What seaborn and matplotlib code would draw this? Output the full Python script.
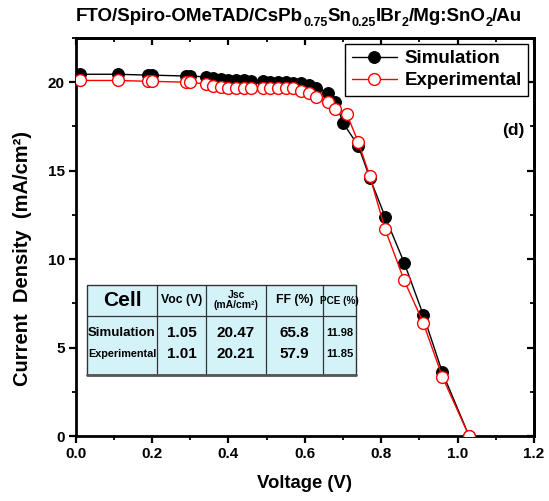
import matplotlib
matplotlib.use("Agg")
import matplotlib.pyplot as plt
import seaborn as sns
import pandas as pd
from matplotlib.patches import Rectangle
from matplotlib.ticker import MultipleLocator

# ---------------- data ----------------
v_sim = [0.01, 0.11, 0.19, 0.20, 0.29, 0.30, 0.34, 0.36, 0.38, 0.40, 0.42, 0.44, 0.46,
         0.49, 0.51, 0.53, 0.55, 0.57, 0.59, 0.61, 0.63, 0.66, 0.68, 0.70, 0.74, 0.77,
         0.81, 0.86, 0.91, 0.96, 1.03]
j_sim = [20.45, 20.45, 20.4, 20.4, 20.35, 20.35, 20.3, 20.25, 20.2, 20.15, 20.1, 20.1,
         20.05, 20.05, 20.0, 20.0, 20.0, 19.95, 19.95, 19.85, 19.7, 19.4, 18.9, 17.7,
         16.4, 14.6, 12.4, 9.8, 6.85, 3.6, 0.0]
v_exp = [0.01, 0.11, 0.19, 0.20, 0.29, 0.30, 0.34, 0.36, 0.38, 0.40, 0.42, 0.44, 0.46,
         0.49, 0.51, 0.53, 0.55, 0.57, 0.59, 0.61, 0.63, 0.66, 0.68, 0.71, 0.74, 0.77,
         0.81, 0.86, 0.91, 0.96, 1.03]
j_exp = [20.1, 20.1, 20.05, 20.05, 20.0, 20.0, 19.9, 19.8, 19.75, 19.7, 19.68, 19.66,
         19.66, 19.66, 19.66, 19.66, 19.66, 19.66, 19.5, 19.4, 19.15, 18.9, 18.5, 18.2,
         16.6, 14.7, 11.7, 8.8, 6.4, 3.35, 0.0]

table_header = ["Cell", "Voc (V)", "Jsc\n(mA/cm²)", "FF (%)", "PCE (%)"]
table_rows = [["Simulation", "1.05", "20.47", "65.8", "11.98"],
              ["Experimental", "1.01", "20.21", "57.9", "11.85"]]

# title pieces: (text, is_subscript)
title_parts = [("FTO/Spiro-OMeTAD/CsPb", False), ("0.75", True), ("Sn", False),
               ("0.25", True), ("IBr", False), ("2", True), ("/Mg:SnO", False),
               ("2", True), ("/Au", False)]

x_ticks = [0.0, 0.2, 0.4, 0.6, 0.8, 1.0, 1.2]
y_ticks = [0, 5, 10, 15, 20]

# ---------------- style ----------------
sns.set_style("ticks")
plt.rcParams["font.family"] = ["Liberation Sans", "DejaVu Sans"]
plt.rcParams["font.weight"] = "bold"
plt.rcParams["text.color"] = "black"
plt.rcParams["axes.labelcolor"] = "black"
plt.rcParams["xtick.color"] = "black"
plt.rcParams["ytick.color"] = "black"
plt.rcParams["xtick.labelcolor"] = "black"
plt.rcParams["ytick.labelcolor"] = "black"

fig = plt.figure(figsize=(5.49, 5.01), dpi=100)
W, H = 549, 501
L, R, T, B = 75.7, 534, 38, 436
ax = fig.add_axes([L / W, 1 - B / H, (R - L) / W, (B - T) / H])

df_sim = pd.DataFrame({"V": v_sim, "J": j_sim})
df_exp = pd.DataFrame({"V": v_exp, "J": j_exp})

sns.lineplot(data=df_sim, x="V", y="J", ax=ax, color="black", marker="o", markersize=8.5,
             markeredgecolor="black", markerfacecolor="black", linewidth=1.0,
             estimator=None, label="Simulation", zorder=3)
sns.lineplot(data=df_exp, x="V", y="J", ax=ax, color="red", marker="o", markersize=8.5,
             markeredgecolor="red", markerfacecolor="white", markeredgewidth=1.0,
             linewidth=1.0, estimator=None, label="Experimental", zorder=4)

ax.set_xlim(0, 1.2)
ax.set_ylim(0, 22.5)
ax.set_xticks(x_ticks)
ax.set_xticklabels([f"{t:.1f}" for t in x_ticks], fontsize=11, fontweight="bold")
ax.set_yticks(y_ticks)
ax.set_yticklabels([str(t) for t in y_ticks], fontsize=11, fontweight="bold")
ax.xaxis.set_minor_locator(MultipleLocator(0.1))
ax.yaxis.set_minor_locator(MultipleLocator(2.5))
ax.tick_params(which="major", direction="out", length=5, width=1.6, pad=3,
               color="black", labelcolor="black")
ax.tick_params(which="minor", direction="out", length=3, width=1.3, color="black")
for s in ax.spines.values():
    s.set_linewidth(2.0)
    s.set_color("black")

# inward ticks on top and right
secx = ax.secondary_xaxis("top")
secx.set_xticks(x_ticks)
secx.xaxis.set_minor_locator(MultipleLocator(0.1))
secx.tick_params(which="major", direction="in", length=5, width=1.6, labeltop=False, color="black")
secx.tick_params(which="minor", direction="in", length=3, width=1.3, color="black")
secx.spines["top"].set_linewidth(2.0)
secx.spines["top"].set_color("black")
secy = ax.secondary_yaxis("right")
secy.set_yticks(y_ticks)
secy.yaxis.set_minor_locator(MultipleLocator(2.5))
secy.tick_params(which="major", direction="in", length=5, width=1.6, labelright=False, color="black")
secy.tick_params(which="minor", direction="in", length=3, width=1.3, color="black")
secy.spines["right"].set_linewidth(2.0)
secy.spines["right"].set_color("black")

ax.set_xlabel("Voltage (V)", fontsize=13.3, fontweight="bold", labelpad=10, color="black")
ax.set_ylabel("Current  Density  (mA/cm²)", fontsize=14.5, fontweight="bold", color="black")
ax.yaxis.set_label_coords(-0.095, (B - 258) / (B - T))

# title built from pieces (bold subscripts)
first = fig.text(76 / W, 1 - 25 / H, title_parts[0][0], ha="left", va="bottom",
                 fontsize=13.5, fontweight="bold", color="black")
prev = first
for txt, sub in title_parts[1:]:
    prev = ax.annotate(txt, xy=(1, 0), xycoords=(prev, first),
                       xytext=(0, -3.2 if sub else 0), textcoords="offset points",
                       ha="left", va="bottom", fontsize=9 if sub else 13.5,
                       fontweight="bold", color="black", annotation_clip=False)

leg = ax.legend(loc="upper right", bbox_to_anchor=(1.0, 1.0), fontsize=13.5,
                frameon=True, fancybox=False, edgecolor="black", framealpha=1,
                handlelength=2.4, borderpad=0.35, labelspacing=0.25, handletextpad=0.4,
                borderaxespad=0.3)
leg.get_frame().set_linewidth(1.0)
for t in leg.get_texts():
    t.set_fontweight("bold")
    t.set_color("black")

fig.text(513 / W, 1 - 130 / H, "(d)", ha="center", va="center", fontsize=12.5,
         fontweight="bold", color="black")

# ---------------- table ----------------
def fx(px):
    return (px - L) / (R - L)

def fy(py):
    return (B - py) / (B - T)

col_edges = [87, 157, 206, 266, 323, 356]
top, mid, bot = 285, 316, 375
ax.add_patch(Rectangle((fx(col_edges[0]), fy(bot)), fx(col_edges[-1]) - fx(col_edges[0]),
                       fy(top) - fy(bot), transform=ax.transAxes, facecolor="#d4f3f9",
                       edgecolor="#333333", linewidth=1.0, zorder=5))
for cx in col_edges[1:-1]:
    ax.plot([fx(cx), fx(cx)], [fy(top), fy(bot)], transform=ax.transAxes,
            color="#333333", linewidth=0.9, zorder=6)
ax.plot([fx(col_edges[0]), fx(col_edges[-1])], [fy(mid), fy(mid)], transform=ax.transAxes,
        color="#333333", linewidth=0.9, zorder=6)
ax.plot([fx(col_edges[0]), fx(col_edges[-1])], [fy(bot), fy(bot)], transform=ax.transAxes,
        color="#555555", linewidth=2.0, zorder=6)

header_sizes = [15, 8.8, 7.5, 8.8, 7.2]
for i, (txt, fs) in enumerate(zip(table_header, header_sizes)):
    cx = (col_edges[i] + col_edges[i + 1]) / 2
    ax.text(fx(cx), fy((top + mid) / 2), txt, transform=ax.transAxes, ha="center",
            va="center", fontsize=fs, fontweight="bold", zorder=7, linespacing=1.0,
            color="black")

row_y = [333, 354]
for r, row in enumerate(table_rows):
    for i, txt in enumerate(row):
        cx = (col_edges[i] + col_edges[i + 1]) / 2
        if i == 0:
            fs = 9.5 if r == 0 else 7.8
        elif i == 4:
            fs = 8
        else:
            fs = 11
        ax.text(fx(cx), fy(row_y[r]), txt, transform=ax.transAxes, ha="center",
                va="center", fontsize=fs, fontweight="bold", zorder=7, color="black")

fig.savefig("out.png", dpi=100)
